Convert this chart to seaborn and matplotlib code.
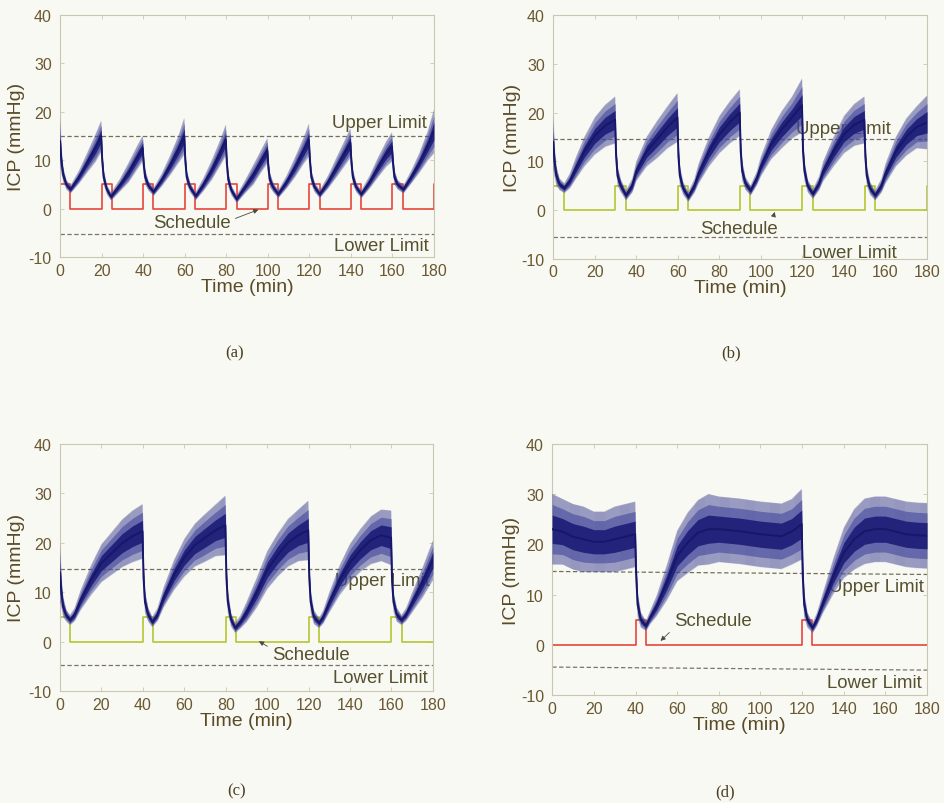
import matplotlib
matplotlib.use("Agg")
import matplotlib.pyplot as plt
import numpy as np
import pandas as pd
import seaborn as sns

# ---------------- panel (a): 5-min doses every 20 min ----------------
t_a = [0, 0.6, 1.5, 3, 5, 9, 13, 17, 19.8,
       20.3, 21, 22.5, 24.5, 29, 33, 37, 39.8,
       40.3, 41, 42.5, 45, 49, 53, 57, 59.8,
       60.3, 61, 62.5, 65.3, 69, 73, 77, 79.8,
       80.3, 81, 82.5, 85, 89, 93, 97, 99.8,
       100.3, 101, 102.5, 105, 109, 113, 117, 119.8,
       120.3, 121, 122.5, 125, 129, 133, 137, 139.8,
       140.3, 141, 142.5, 145, 149, 153, 157, 159.8,
       160.3, 161, 162.5, 165.3, 169, 173, 177, 180]
icp_a = [14, 10, 7, 5, 4, 6.5, 9.5, 12.5, 15,
         10, 6.5, 4, 2.5, 5, 7.5, 10.5, 12.5,
         9, 6.5, 4.8, 3.5, 6, 9, 12.3, 15,
         10, 6.5, 4.5, 2.6, 5, 8, 11.5, 14.2,
         9.5, 6, 3.8, 2, 4.5, 7, 10, 12,
         8.5, 6, 4.5, 3, 5.5, 8.5, 11.8, 14.2,
         10, 6.5, 4.5, 3, 5.5, 8.5, 11.5, 13.6,
         9.5, 6.5, 4.5, 3, 5.5, 8.5, 11.3, 12.8,
         9.5, 6.5, 5, 4, 6.5, 9.5, 13, 16]
spread_a = [5, 2.5, 1.5, 1, 0.8, 1.3, 2, 2.8, 3.2,
            2.2, 1.5, 1, 0.8, 1.3, 2, 2.4, 2.6,
            2.2, 1.5, 1, 0.8, 1.3, 2, 2.8, 3.8,
            2.2, 1.5, 1, 0.8, 1.3, 2, 2.6, 3.2,
            2.2, 1.5, 1, 0.8, 1.3, 2, 2.3, 2.6,
            2.2, 1.5, 1, 0.8, 1.3, 2, 2.6, 3.4,
            2.2, 1.5, 1, 0.8, 1.3, 2, 2.6, 3.0,
            2.2, 1.5, 1, 0.8, 1.3, 2, 2.6, 3.0,
            2.2, 1.5, 1, 0.8, 1.3, 2, 3.0, 4.5]
sched_t_a = [0, 5, 20, 25, 40, 45, 60, 65, 80, 85, 100, 105,
             120, 125, 140, 145, 160, 165, 180]
sched_a = [5, 0, 5, 0, 5, 0, 5, 0, 5, 0, 5, 0, 5, 0, 5, 0, 5, 0, 5]
limits_a = {"upper": (15.0, 15.0), "lower": (-5.2, -5.2)}

# ---------------- panel (b): 5-min doses every 30 min ----------------
t_b = [0, 0.6, 1.5, 3, 5.3, 8, 11, 15, 20, 25, 29.8,
       30.3, 31, 32.5, 35, 38, 40, 45, 50, 55, 59.8,
       60.3, 61, 62.5, 65, 68, 70, 75, 80, 85, 89.8,
       90.3, 91, 92.5, 95, 98, 100, 105, 110, 115, 119.8,
       120.3, 121, 122.5, 125, 128, 130, 135, 140, 145, 149.8,
       150.3, 151, 152.5, 155, 158, 160, 165, 170, 175, 180]
icp_b = [14, 10, 7, 5.3, 4.5, 6, 8.7, 12, 15.2, 17.3, 18.5,
         11, 7, 5, 3, 5, 8, 12, 14.5, 17, 19,
         11, 7, 4.5, 2.7, 5, 7.5, 12, 15.5, 18, 20,
         12, 8, 5.5, 4, 6.5, 9, 13.5, 16.5, 19, 21.5,
         12, 8, 5, 3.3, 5.5, 8, 12, 15.5, 17.5, 18.5,
         11, 7, 4.5, 3, 5, 7.5, 12, 15, 17, 18]
spread_b = [5.5, 3, 2, 1.2, 1, 1.5, 2.2, 3, 3.8, 4.3, 4.8,
            3, 2, 1.3, 1, 1.4, 2, 3, 3.8, 4.3, 5,
            3, 2, 1.3, 1, 1.4, 2, 3, 3.8, 4.3, 4.8,
            3, 2, 1.3, 1, 1.4, 2, 3, 3.8, 4.3, 5.5,
            3, 2, 1.3, 1, 1.4, 2, 3, 3.8, 4.3, 4.8,
            3, 2, 1.3, 1, 1.4, 2, 3, 3.8, 4.3, 5.5]
sched_t_b = [0, 5, 30, 35, 60, 65, 90, 95, 120, 125, 150, 155, 180]
sched_b = [5, 0, 5, 0, 5, 0, 5, 0, 5, 0, 5, 0, 5]
limits_b = {"upper": (14.5, 14.5), "lower": (-5.5, -5.5)}

# ---------------- panel (c): 5-min doses every 40 min ----------------
t_c = [0, 0.6, 1.5, 3, 4.8, 7, 10, 15, 20, 25, 30, 35, 39.8,
       40.3, 41, 42.5, 44.5, 47, 50, 55, 60, 65, 70, 75, 79.8,
       80.3, 81, 82.5, 84.5, 87, 90, 95, 100, 105, 110, 115, 119.8,
       120.3, 121, 122.5, 125, 127, 130, 135, 140, 145, 150, 155, 159.8,
       160.3, 161, 162.5, 164.8, 167, 170, 175, 180]
icp_c = [14, 10, 7, 5.3, 4.4, 5.5, 8.5, 12.5, 15.9, 17.9, 19.9, 21.3, 22.3,
         13, 8, 5.5, 4, 5.5, 9, 13.5, 17, 19.5, 21, 22.5, 23.5,
         13, 8, 4.5, 2.8, 4, 6, 10, 14.5, 17.5, 20, 21.5, 22.5,
         13, 8, 5, 3.8, 5, 8, 12.5, 16, 18.5, 20.5, 21.5, 21,
         12, 8, 5.5, 4.4, 5.5, 8, 12, 16.5]
spread_c = [6, 3, 2, 1.2, 1, 1.3, 2, 3, 3.8, 4.3, 4.8, 5.2, 5.5,
            3.5, 2.2, 1.4, 1, 1.3, 2, 3, 3.8, 4.3, 4.8, 5.2, 6,
            3.5, 2.2, 1.4, 1, 1.3, 2, 3, 3.8, 4.3, 4.8, 5.2, 6,
            3.5, 2.2, 1.4, 1, 1.3, 2, 3, 3.8, 4.3, 4.8, 5.2, 5.5,
            3, 2, 1.4, 1, 1.3, 2, 3, 4]
sched_t_c = [0, 5, 40, 45, 80, 85, 120, 125, 160, 165, 180]
sched_c = [5, 0, 5, 0, 5, 0, 5, 0, 5, 0, 0]
limits_c = {"upper": (14.6, 14.6), "lower": (-4.8, -4.8)}

# ---------------- panel (d): doses only when ICP leaves the band ----------------
t_d = [0, 5, 10, 15, 20, 25, 30, 35, 39.8,
       40.3, 41, 42.5, 45, 47, 50, 55, 60, 65, 70, 75, 80, 85, 90, 95,
       100, 105, 110, 115, 119.8,
       120.3, 121, 122.5, 125, 127, 130, 135, 140, 145, 150, 155, 160,
       165, 170, 175, 180]
icp_d = [23, 22.5, 21.5, 21, 20.5, 20.5, 21, 21.5, 22,
         14, 8, 5, 3.8, 5.5, 7.7, 12.4, 17.7, 20.3, 22.3, 23, 23, 22.8,
         22.6, 22.3, 22, 21.8, 21.6, 22.5, 24,
         14, 8, 5, 3.4, 5, 8.4, 13.7, 18.3, 21, 22.6, 23, 23, 22.5, 22,
         21.8, 21.7]
spread_d = [7, 6.5, 6.5, 6.5, 6, 6, 6.5, 6.5, 6.5,
            4, 2.5, 1.5, 1, 1.3, 2, 3.5, 5, 6, 6.5, 7, 6.5, 6.5, 6.5, 6.5,
            6.5, 6.5, 6.5, 6.5, 7,
            4, 2.5, 1.5, 1, 1.3, 2, 3.5, 5, 6, 6.5, 6.5, 6.5, 6.5, 6.5, 6.5,
            6.5]
sched_t_d = [0, 40, 45, 120, 125, 180]
sched_d = [0, 5, 0, 5, 0, 0]
limits_d = {"upper": (14.6, 14.0), "lower": (-4.4, -5.0)}

# ---------------- styling ----------------
PAPER = "#f9f9f3"
FRAME = "#c8c8b2"
TICKTXT = "#6a5830"
LABELTXT = "#5a4b26"
NOTE = "#55502e"
NAVY = "#1b1b74"
RED = "#e8463c"
GREEN = "#b4c631"

sns.set_theme(style="white")
plt.rcParams["font.family"] = ["Liberation Sans", "DejaVu Sans"]
plt.rcParams["axes.unicode_minus"] = False
plt.rcParams["hatch.linewidth"] = 0.45
plt.rcParams["hatch.color"] = NAVY

fig = plt.figure(figsize=(9.44, 8.04), dpi=100, facecolor=PAPER)

panels = [
    dict(rect=[0.0636, 0.679, 0.396, 0.301], t=t_a, icp=icp_a, spread=spread_a,
         st=sched_t_a, sv=sched_a, sc=RED, lim=limits_a, ylx=-0.094,
         up=(131, 17.8), low=(132, -7.6), sch=(63.5, -2.9), tip=(95.5, -0.2),
         rel=(1.0, 0.65), cap=(0.249, 0.560, "(a)")),
    dict(rect=[0.586, 0.677, 0.396, 0.303], t=t_b, icp=icp_b, spread=spread_b,
         st=sched_t_b, sv=sched_b, sc=GREEN, lim=limits_b, ylx=-0.085,
         up=(117, 16.7), low=(120, -8.8), sch=(89.5, -3.75), tip=(106.7, -0.4),
         rel=(0.93, 1.0), cap=(0.774, 0.560, "(b)")),
    dict(rect=[0.0636, 0.139, 0.395, 0.308], t=t_c, icp=icp_c, spread=spread_c,
         st=sched_t_c, sv=sched_c, sc=GREEN, lim=limits_c, ylx=-0.094,
         up=(132.5, 12.3), low=(132, -7.2), sch=(121, -2.5), tip=(96, 0.1),
         rel=(0.0, 0.8), cap=(0.251, 0.016, "(c)")),
    dict(rect=[0.585, 0.134, 0.397, 0.313], t=t_d, icp=icp_d, spread=spread_d,
         st=sched_t_d, sv=sched_d, sc=RED, lim=limits_d, ylx=-0.085,
         up=(133, 11.7), low=(132, -7.5), sch=(77, 4.8), tip=(52, 0.8),
         rel=(0.0, 0.05), cap=(0.768, 0.014, "(d)")),
]

for p in panels:
    ax = fig.add_axes(p["rect"])
    ax.set_facecolor(PAPER)

    df = pd.DataFrame({"t": p["t"], "icp": p["icp"], "spread": p["spread"]})
    hi = df["icp"] + df["spread"]
    lo = df["icp"] - df["spread"]
    mid_hi = df["icp"] + 0.7 * df["spread"]
    mid_lo = df["icp"] - 0.7 * df["spread"]
    core_hi = df["icp"] + 0.4 * df["spread"]
    core_lo = df["icp"] - 0.4 * df["spread"]

    # limit lines and their labels sit underneath the trace
    ax.plot([0, 180], p["lim"]["upper"], ls=(0, (3.5, 2)), lw=0.9,
            color="#72705a", zorder=1)
    ax.plot([0, 180], p["lim"]["lower"], ls=(0, (3.5, 2)), lw=0.9,
            color="#7c7268", zorder=1)
    ax.text(p["up"][0], p["up"][1], "Upper Limit", fontsize=13.4,
            color=NOTE, ha="left", va="center", zorder=1)
    ax.text(p["low"][0], p["low"][1], "Lower Limit", fontsize=13.4,
            color=NOTE, ha="left", va="center", zorder=1)

    # dosing schedule
    sched = pd.DataFrame({"t": p["st"], "v": p["sv"]})
    sns.lineplot(data=sched, x="t", y="v", ax=ax, drawstyle="steps-post",
                 color=p["sc"], lw=1.2, zorder=2, estimator=None, sort=False)

    # ICP trace: streaky outer envelope, denser middle, dark core
    ax.fill_between(df["t"], lo, hi, facecolor="#9aa0d0", alpha=0.35,
                    lw=0, zorder=3)
    ax.fill_between(df["t"], lo, hi, facecolor="none",
                    hatch="|" * 16, edgecolor=NAVY, lw=0, zorder=3, alpha=0.55)
    ax.fill_between(df["t"], mid_lo, mid_hi, facecolor="#3a3f98",
                    alpha=0.55, lw=0, zorder=4)
    ax.fill_between(df["t"], core_lo, core_hi, facecolor="#1c1c76",
                    alpha=0.9, lw=0, zorder=4)
    sns.lineplot(data=df, x="t", y="icp", ax=ax, color="#16166a", lw=1.4,
                 zorder=5, estimator=None, sort=False)

    ax.annotate("Schedule", xy=p["tip"], xytext=p["sch"], fontsize=13.4,
                color=NOTE, ha="center", va="center", zorder=6,
                arrowprops=dict(arrowstyle="-|>", color="#4a4a40", lw=0.6,
                                mutation_scale=7, shrinkA=1, shrinkB=0,
                                relpos=p["rel"]))

    ax.set_xlim(0, 180)
    ax.set_ylim(-10, 40)
    ax.set_xticks(range(0, 181, 20))
    ax.set_yticks(range(-10, 41, 10))
    ax.tick_params(direction="in", length=3, width=0.6, color=FRAME,
                   labelcolor=TICKTXT, labelsize=11.5, top=True, right=True,
                   bottom=True, left=True)
    ax.tick_params(axis="y", pad=6)
    ax.tick_params(axis="x", pad=4)
    for s in ax.spines.values():
        s.set_color(FRAME)
        s.set_linewidth(0.8)
    ax.set_xlabel("Time (min)", fontsize=14, color=LABELTXT, labelpad=0)
    ax.set_ylabel("ICP (mmHg)", fontsize=14, color=LABELTXT)
    ax.yaxis.set_label_coords(p["ylx"], 0.5)

    cx, cy, ctext = p["cap"]
    fig.text(cx, cy, ctext, fontsize=12, color="#4a3e22", ha="center",
             va="center", family=["Liberation Serif", "DejaVu Serif"])

fig.savefig("out.png", dpi=100, facecolor=PAPER)
